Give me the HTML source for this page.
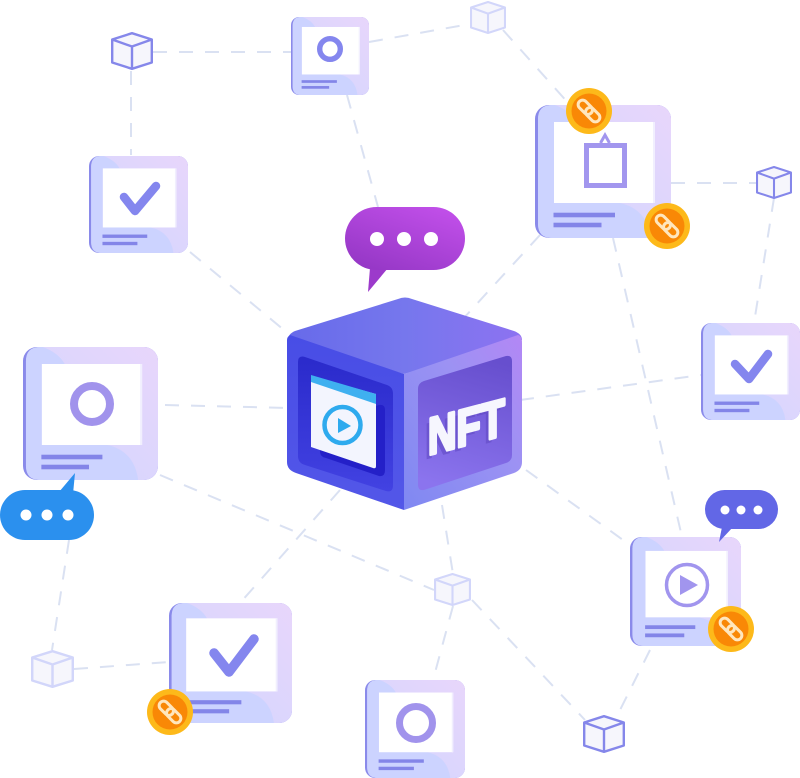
<!DOCTYPE html>
<html lang="en">
<head>
<meta charset="utf-8">
<title>NFT network</title>
<style>
html,body{margin:0;padding:0;background:#fff}
body{width:800px;height:778px;overflow:hidden}
svg{display:block}
</style>
</head>
<body>
<svg width="800" height="778" viewBox="0 0 800 778" xmlns="http://www.w3.org/2000/svg">
<defs>
  <linearGradient id="cardG" x1="0" y1="1" x2="1" y2="0">
    <stop offset="0" stop-color="#d0d5ff"/>
    <stop offset="1" stop-color="#e8d6fb"/>
  </linearGradient>
  <linearGradient id="topG" x1="0" y1="0" x2="1" y2="0">
    <stop offset="0" stop-color="#676aea"/>
    <stop offset="0.5" stop-color="#7677ed"/>
    <stop offset="1" stop-color="#8d72f1"/>
  </linearGradient>
  <linearGradient id="leftG" x1="0" y1="0" x2="0" y2="1">
    <stop offset="0" stop-color="#484de6"/>
    <stop offset="1" stop-color="#5357e8"/>
  </linearGradient>
  <linearGradient id="rightG" x1="0" y1="1" x2="1" y2="0">
    <stop offset="0" stop-color="#7f88f2"/>
    <stop offset="0.6" stop-color="#9c92f3"/>
    <stop offset="1" stop-color="#b387f5"/>
  </linearGradient>
  <linearGradient id="rPanel" x1="0.6" y1="0" x2="0.4" y2="1">
    <stop offset="0" stop-color="#674fce"/>
    <stop offset="1" stop-color="#8b74ee"/>
  </linearGradient>
  <linearGradient id="lPanel" x1="0.5" y1="0" x2="0.5" y2="1">
    <stop offset="0" stop-color="#2a2acb"/>
    <stop offset="1" stop-color="#4242e2"/>
  </linearGradient>
  <linearGradient id="purple" x1="0.1" y1="1" x2="0.8" y2="0">
    <stop offset="0" stop-color="#9336c4"/>
    <stop offset="1" stop-color="#c14fe9"/>
  </linearGradient>

  <symbol id="card" viewBox="0 0 136 133" preserveAspectRatio="none">
    <rect x="0" y="0" width="136" height="133" rx="14" fill="#8a8aea"/>
    <rect x="3" y="0" width="133" height="133" rx="14" fill="url(#cardG)"/>
    <path d="M3 14Q3 0 17 0H20Q36 6 42 17H19V98H85Q112 104 116 133H17Q3 133 3 119Z" fill="#ccd3ff"/>
    <rect x="19" y="17" width="101" height="81" fill="#ffffff"/>
    <rect x="118" y="17" width="2" height="81" fill="#f1effe"/>
    <rect x="18.500" y="107.700" width="61.500" height="4.600" fill="#8385e8"/>
    <rect x="18.500" y="117.700" width="48" height="4.600" fill="#8385e8"/>
  </symbol>

  <symbol id="cube" viewBox="0 0 42 38" preserveAspectRatio="none">
    <path d="M21 1.200L40.800 7.500V30.500L21 36.800L1.200 30.500V7.500Z" fill="#f6f6fc" stroke="#8587ea" stroke-width="2.400" stroke-linejoin="round"/>
    <path d="M1.200 7.500L21 14.500L40.800 7.500M21 14.500V36.800" fill="none" stroke="#8587ea" stroke-width="2.400"/>
  </symbol>
  <symbol id="cubeL" viewBox="0 0 42 38" preserveAspectRatio="none">
    <path d="M21 1.200L40.800 7.500V30.500L21 36.800L1.200 30.500V7.500Z" fill="#f6f6fc" stroke="#d2d6fa" stroke-width="2.400" stroke-linejoin="round"/>
    <path d="M1.200 7.500L21 14.500L40.800 7.500M21 14.500V36.800" fill="none" stroke="#d2d6fa" stroke-width="2.400"/>
  </symbol>

  <g id="coin">
    <circle r="23" fill="#fdb91a"/>
    <circle r="17.500" fill="#f98806"/>
    <g transform="rotate(45)" fill="none" stroke="#ffe6bd" stroke-width="3">
      <rect x="-13.500" y="-4.500" width="16.500" height="9" rx="4.500"/>
      <rect x="-3" y="-4.500" width="16.500" height="9" rx="4.500"/>
    </g>
  </g>
</defs>

<rect width="800" height="778" fill="#fff"/>

<!-- connectors -->
<g stroke="#dae1f2" stroke-width="2" stroke-dasharray="14 12" fill="none">
  <path d="M153 52H291"/>
  <path d="M131 71V155"/>
  <path d="M369 42L470 24"/>
  <path d="M347 95L378 207"/>
  <path d="M503 30L570 105"/>
  <path d="M190 252L290 335"/>
  <path d="M540 235L462 320"/>
  <path d="M671 183H756"/>
  <path d="M774 198L754 323"/>
  <path d="M613 238L682 537"/>
  <path d="M520 400L701 375"/>
  <path d="M165 405L290 408"/>
  <path d="M526 470L630 545"/>
  <path d="M160 475L434 590"/>
  <path d="M340 490L240 603"/>
  <path d="M442 505L453 574"/>
  <path d="M453 606L433 680"/>
  <path d="M472 600L585 720"/>
  <path d="M650 650L617 716"/>
  <path d="M69 540L52 650"/>
  <path d="M74 669L169 662"/>
</g>

<!-- cubes -->
<use href="#cube" x="111" y="32" width="42" height="38"/>
<use href="#cubeL" x="470" y="1" width="36" height="33"/>
<use href="#cube" x="756" y="166" width="36" height="33"/>
<use href="#cubeL" x="31" y="650" width="43" height="38"/>
<use href="#cubeL" x="434" y="573" width="37" height="33"/>
<use href="#cube" x="583" y="715" width="42" height="38"/>

<!-- cards -->
<use href="#card" x="291" y="17" width="78" height="78"/>
<circle cx="330" cy="49" r="10.300" fill="none" stroke="#8486ee" stroke-width="5.400"/>

<use href="#card" x="89" y="156" width="99" height="97"/>
<path d="M124 197L135 211L156 186" fill="none" stroke="#8486ee" stroke-width="8.500" stroke-linecap="round" stroke-linejoin="round"/>

<use href="#card" x="535" y="105" width="136" height="133"/>
<path d="M600.500 143L605 135L609.500 143" fill="#fff" stroke="#a296ee" stroke-width="3"/>
<rect x="586.500" y="145.500" width="38" height="40" fill="#fff" stroke="#a296ee" stroke-width="5"/>

<use href="#card" x="701" y="323" width="99" height="97"/>
<path d="M735 364L749 379L768 354" fill="none" stroke="#8486ee" stroke-width="8.500" stroke-linecap="round" stroke-linejoin="round"/>

<use href="#card" x="23" y="347" width="135" height="133"/>
<circle cx="92" cy="404" r="18" fill="none" stroke="#a193ec" stroke-width="8"/>

<use href="#card" x="630" y="537" width="111" height="109"/>
<circle cx="687" cy="585" r="20.500" fill="none" stroke="#a195ee" stroke-width="3.500"/>
<path d="M680 575L698 585L680 595Z" fill="#a195ee"/>

<use href="#card" x="169" y="603" width="123" height="120"/>
<path d="M214 653L229 672L254 639" fill="none" stroke="#8486ee" stroke-width="9.500" stroke-linecap="round" stroke-linejoin="round"/>

<use href="#card" x="365" y="680" width="100" height="98"/>
<circle cx="416" cy="723" r="16.500" fill="none" stroke="#a193ec" stroke-width="7"/>

<!-- central cube -->
<path d="M398 299Q405 296 412 299L514 331Q522 334 522 340L404 374L288 340Q288 334 295 331Z" fill="url(#topG)"/>
<path d="M287 340Q287 337 290 335L404 374V510L296 473Q287 470 287 462Z" fill="url(#leftG)"/>
<path d="M404 374L518 335Q522 336 522 343V462Q522 470 514 473L404 510Z" fill="url(#rightG)"/>
<path d="M298 362Q298 355 305 357L387 385Q393 387 393 394V485Q393 493 386 491L305 465Q298 463 298 456Z" fill="url(#lPanel)"/>
<path d="M320 425L379 405Q385 404 385 410V470Q385 477 379 476L326 458Q320 457 320 451Z" fill="#2420c8"/>
<path d="M311 376L376 394V466Q376 469 373 468L311 447Z" fill="#f3f5fe"/>
<path d="M311 375L376 394V404L311 382Z" fill="#3fb0f0"/>
<circle cx="342.500" cy="425" r="18" fill="#f3f5fe" stroke="#2eaaee" stroke-width="4.500"/>
<path d="M338 418L351 426L338 433Z" fill="#2eaaee"/>
<path d="M418 389Q418 383 424 381L506 356Q512 355 512 361V455Q512 461 506 463L424 490Q418 491 418 485Z" fill="url(#rPanel)"/>
<text transform="translate(424,460) skewY(-14.800) scale(.76,1)" font-family="'Liberation Sans',sans-serif" font-weight="700" font-size="52" fill="#5f47c2" opacity=".55">NFT</text>
<text transform="translate(428,455) skewY(-14.800) scale(.76,1)" font-family="'Liberation Sans',sans-serif" font-weight="700" font-size="52" fill="#f6f6fe" stroke="#f6f6fe" stroke-width="3.500" stroke-linejoin="round">NFT</text>

<!-- bubbles -->
<path d="M370 268L368 292L388 268Z" fill="#9c3acb"/>
<rect x="345" y="207" width="120" height="63" rx="31.500" fill="url(#purple)"/>
<circle cx="377" cy="239" r="7" fill="#fff"/><circle cx="404" cy="239" r="7" fill="#fff"/><circle cx="431" cy="239" r="7" fill="#fff"/>

<path d="M59 492L75 473L73 494Z" fill="#2b90ee"/>
<rect x="0" y="490" width="94" height="50" rx="25" fill="#2b90ee"/>
<circle cx="26" cy="515" r="5.500" fill="#fff"/><circle cx="47" cy="515" r="5.500" fill="#fff"/><circle cx="68" cy="515" r="5.500" fill="#fff"/>

<path d="M722 527L719 542L733 527Z" fill="#6267e6"/>
<rect x="705" y="490" width="73" height="39" rx="19.500" fill="#6267e6"/>
<circle cx="725" cy="510" r="4.500" fill="#fff"/><circle cx="741" cy="510" r="4.500" fill="#fff"/><circle cx="758" cy="510" r="4.500" fill="#fff"/>

<!-- coins -->
<use href="#coin" transform="translate(589,111)"/>
<use href="#coin" transform="translate(667,226)"/>
<use href="#coin" transform="translate(731,629)"/>
<use href="#coin" transform="translate(170,712)"/>
</svg>
</body>
</html>
